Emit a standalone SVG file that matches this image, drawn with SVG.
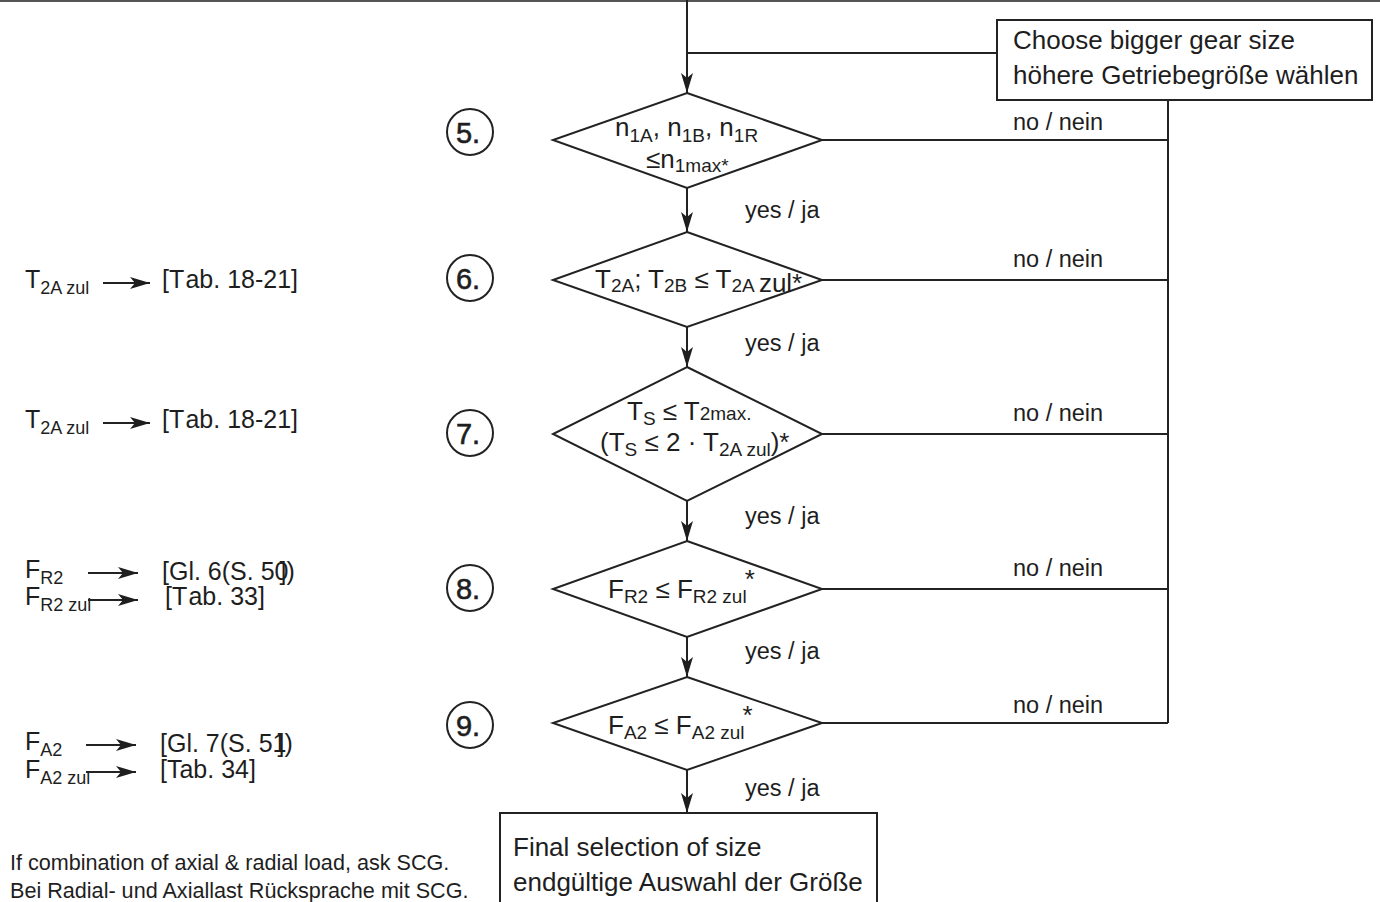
<svg xmlns="http://www.w3.org/2000/svg" width="1380" height="902" viewBox="0 0 1380 902">
<defs>
<marker id="ah" markerUnits="userSpaceOnUse" markerWidth="22" markerHeight="12" refX="20" refY="6" orient="auto">
<path d="M0,0 L20,6 L0,12 L5,6 z" fill="#1e1e1e"/>
</marker>
</defs>
<style>
text{font-family:"Liberation Sans",Arial,sans-serif;fill:#1e1e1e}
.ln{stroke:#222;stroke-width:2;fill:none}
.ar{stroke:#222;stroke-width:2;fill:none;marker-end:url(#ah)}
.box{stroke:#222;stroke-width:2;fill:#fff}
.dia{stroke:#222;stroke-width:2;fill:#fff}
.num{font-size:29px;text-anchor:middle;stroke:#1e1e1e;stroke-width:0.6}
.lbl{font-size:23.5px}
.big{font-size:26px}
.m{font-size:26px}
.s{font-size:19px}
.lm{font-size:25px}
.ls{font-size:18px}
.note{font-size:21.6px}
</style>
<line x1="0" y1="1" x2="1380" y2="1" stroke="#555" stroke-width="2"/>
<g id="connectors">
<line class="ar" x1="687" y1="0" x2="687" y2="93"/>
<polyline class="ln" points="687,53 997,53"/>
<polyline class="ln" points="1168,100 1168,723"/>
<line class="ln" x1="822" y1="140" x2="1168" y2="140"/>
<line class="ln" x1="822" y1="280" x2="1168" y2="280"/>
<line class="ln" x1="822" y1="434" x2="1168" y2="434"/>
<line class="ln" x1="822" y1="589" x2="1168" y2="589"/>
<line class="ln" x1="822" y1="723" x2="1168" y2="723"/>
<line class="ar" x1="687" y1="188" x2="687" y2="232"/>
<line class="ar" x1="687" y1="327" x2="687" y2="367"/>
<line class="ar" x1="687" y1="501" x2="687" y2="541"/>
<line class="ar" x1="687" y1="637" x2="687" y2="677"/>
<line class="ar" x1="687" y1="770" x2="687" y2="813"/>
<text class="lbl" x="1013" y="130">no / nein</text>
<text class="lbl" x="1013" y="267">no / nein</text>
<text class="lbl" x="1013" y="421">no / nein</text>
<text class="lbl" x="1013" y="576">no / nein</text>
<text class="lbl" x="1013" y="713">no / nein</text>
<text class="lbl" x="745" y="218">yes / ja</text>
<text class="lbl" x="745" y="351">yes / ja</text>
<text class="lbl" x="745" y="524">yes / ja</text>
<text class="lbl" x="745" y="659">yes / ja</text>
<text class="lbl" x="745" y="796">yes / ja</text>
</g>
<g id="box-bigger">
<rect class="box" x="997" y="20" width="375" height="80"/>
<text class="big" x="1013" y="49">Choose bigger gear size</text>
<text class="big" x="1013" y="84">höhere Getriebegröße wählen</text>
</g>
<g id="step5">
<circle class="ln" cx="470" cy="132" r="23"/>
<text class="num" x="468" y="143">5.</text>
<polygon class="dia" points="687,93 822,140 687,188 553,140"/>
<text class="m" x="615" y="136">n<tspan class="s" dy="6">1A</tspan><tspan dy="-6">, n</tspan><tspan class="s" dy="6">1B</tspan><tspan dy="-6">, n</tspan><tspan class="s" dy="6">1R</tspan></text>
<text class="m" x="646" y="168">≤n<tspan class="s" dy="4">1max*</tspan></text>
</g>
<g id="step6">
<circle class="ln" cx="470" cy="278" r="23"/>
<text class="num" x="468" y="289">6.</text>
<polygon class="dia" points="687,232 822,280 687,327 553,280"/>
<text class="m" x="595" y="288">T<tspan class="s" dy="4">2A</tspan><tspan dy="-4">; T</tspan><tspan class="s" dy="4">2B</tspan><tspan dy="-4"> ≤ T</tspan><tspan class="s" dy="4">2A </tspan><tspan dy="0">zul*</tspan></text>
</g>
<g id="step7">
<circle class="ln" cx="470" cy="433" r="23"/>
<text class="num" x="468" y="444">7.</text>
<polygon class="dia" points="687,367 822,434 687,501 553,434"/>
<text class="m" x="627" y="420">T<tspan class="s" dy="5">S</tspan><tspan dy="-5"> ≤ T</tspan><tspan class="s" dy="0">2max.</tspan></text>
<text class="m" x="600" y="451">(T<tspan class="s" dy="5">S</tspan><tspan dy="-5"> ≤ 2 · T</tspan><tspan class="s" dy="5" font-size="18">2A zul</tspan><tspan dy="-5">)*</tspan></text>
</g>
<g id="step8">
<circle class="ln" cx="470" cy="588" r="23"/>
<text class="num" x="468" y="599">8.</text>
<polygon class="dia" points="687,541 822,589 687,637 553,589"/>
<text class="m" x="608" y="598">F<tspan class="s" dy="5">R2</tspan><tspan dy="-5"> ≤ F</tspan><tspan class="s" dy="5">R2 zul</tspan><tspan dx="-2" dy="-15">*</tspan></text>
</g>
<g id="step9">
<circle class="ln" cx="470" cy="725" r="23"/>
<text class="num" x="468" y="736">9.</text>
<polygon class="dia" points="687,677 822,723 687,770 553,723"/>
<text class="m" x="608" y="734">F<tspan class="s" dy="5">A2</tspan><tspan dy="-5"> ≤ F</tspan><tspan class="s" dy="5">A2 zul</tspan><tspan dx="-2" dy="-15">*</tspan></text>
</g>
<g id="box-final">
<rect class="box" x="500" y="813" width="377" height="95"/>
<text class="big" x="513" y="856">Final selection of size</text>
<text class="big" x="513" y="891">endgültige Auswahl der Größe</text>
</g>
<g id="refs">
<text class="lm" x="25" y="288">T<tspan class="ls" dy="6">2A zul</tspan></text>
<line class="ar" x1="103" y1="283" x2="150" y2="283"/>
<text class="lm" x="162" y="288">[T<tspan dx="4">ab. 18-21]</tspan></text>
<text class="lm" x="25" y="428">T<tspan class="ls" dy="6">2A zul</tspan></text>
<line class="ar" x1="103" y1="423" x2="150" y2="423"/>
<text class="lm" x="162" y="428">[T<tspan dx="4">ab. 18-21]</tspan></text>
<text class="lm" x="25" y="578">F<tspan class="ls" dy="6">R2</tspan></text>
<line class="ar" x1="88" y1="573" x2="138" y2="573"/>
<text class="lm" x="162" y="580">[Gl. 6(S. 50<tspan dx="-9">])</tspan></text>
<text class="lm" x="25" y="605">F<tspan class="ls" dy="6" font-size="17">R2 zul</tspan></text>
<line class="ar" x1="88" y1="600" x2="138" y2="600"/>
<text class="lm" x="165" y="605">[T<tspan dx="4">ab. 33]</tspan></text>
<text class="lm" x="25" y="750">F<tspan class="ls" dy="6">A2</tspan></text>
<line class="ar" x1="86" y1="745" x2="136" y2="745"/>
<text class="lm" x="160" y="752">[Gl. 7(S. 51<tspan dx="-9">])</tspan></text>
<text class="lm" x="25" y="778">F<tspan class="ls" dy="6" font-size="17">A2 zul</tspan></text>
<line class="ar" x1="86" y1="772" x2="136" y2="772"/>
<text class="lm" x="160" y="778">[Tab. 34]</text>
</g>
<g id="note">
<text class="note" x="10" y="870">If combination of axial &amp; radial load, ask SCG.</text>
<text class="note" x="10" y="898">Bei Radial- und Axiallast Rücksprache mit SCG.</text>
</g>
</svg>
